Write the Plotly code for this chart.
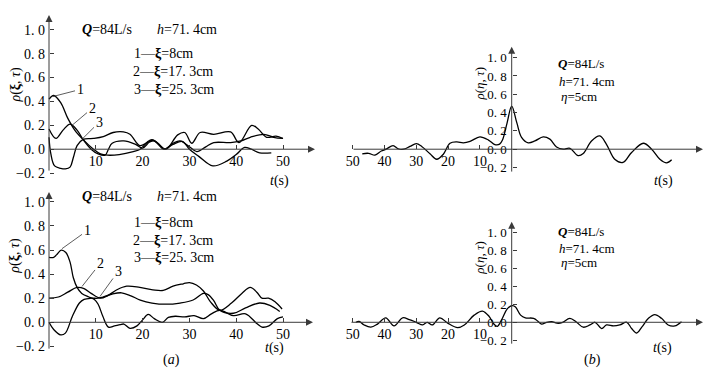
import plotly.graph_objects as go

W, H = 711, 377

# ---------------- data ----------------
# (a) upper panel: rho(xi, tau) vs t (s)
t_a1 = [0, 1, 2.5, 4, 5.5, 7.3, 9.5, 11, 12.5, 15, 18, 19.5, 21, 22, 23.3, 24.6, 26.5, 28.5, 30, 32, 35, 38, 40, 41.8, 43.2, 45, 47.5]
rho_a1 = [0.42, 0.45, 0.39, 0.26, 0.16, 0.08, 0.0, -0.04, -0.05, -0.045, -0.02, 0.0, 0.06, 0.08, 0.05, 0.0, 0.04, 0.065, 0.0, -0.06, -0.14, -0.1, -0.045, 0.015, 0.0, -0.03, -0.03]
t_a2 = [0, 1.5, 3, 4.5, 6, 7.3, 9, 10.5, 12, 12.7, 13.5, 16, 18.5, 20, 21.5, 22.5, 24.6, 26.5, 28, 30, 31.6, 33.5, 35.2, 38.8, 41, 43, 45.9, 48, 50]
rho_a2 = [0.17, 0.09, 0.16, 0.21, 0.16, 0.08, 0.0, -0.04, -0.05, 0.0, 0.05, 0.07, 0.04, 0.01, 0.06, 0.07, 0.0, 0.05, 0.07, 0.02, -0.02, 0.02, 0.055, 0.055, 0.07, 0.1, 0.125, 0.1, 0.09]
t_a3 = [0, 0.4, 1.2, 2.5, 3.5, 4.5, 5.2, 6, 7.3, 9.5, 11.6, 13.7, 15.9, 17.3, 19.4, 21, 22.2, 23.5, 25, 27.5, 29, 30.5, 32.3, 35.2, 38.8, 40.6, 43.3, 44.7, 46.5, 48.5, 50]
rho_a3 = [0.1, -0.04, -0.14, -0.16, -0.165, -0.15, -0.07, 0.03, 0.083, 0.09, 0.105, 0.14, 0.145, 0.125, 0.03, 0.055, 0.075, 0.04, 0.0, 0.12, 0.14, 0.05, 0.14, 0.125, 0.145, 0.055, 0.2, 0.17, 0.1, 0.11, 0.09]

# (a) lower panel
t_c1 = [0, 1, 1.6, 2.6, 3.6, 4.5, 5.2, 6, 7, 8.5, 9.7, 10.5, 11.5, 12.7, 14, 15.2, 16, 17.3, 18.8, 20, 21.2, 22.5, 24.2, 25.5, 27, 29, 31, 33, 34.7, 36.5, 39.4, 42, 44.4, 45.5, 47, 48.8, 50]
rho_c1 = [0.54, 0.54, 0.56, 0.6, 0.58, 0.5, 0.37, 0.29, 0.24, 0.21, 0.19, 0.15, 0.05, -0.04, -0.03, -0.02, -0.015, -0.05, -0.03, 0.02, 0.065, 0.03, 0.0, 0.04, 0.05, 0.045, 0.055, 0.03, 0.07, 0.1, 0.055, 0.07, -0.01, -0.04, -0.03, 0.03, 0.045]
t_c2 = [0, 2, 4, 6, 7.5, 9, 11, 12.5, 14.5, 16.6, 19.4, 22.2, 24.4, 26.5, 28.7, 30, 31.5, 33, 34.5, 36.5, 39, 41.2, 43, 44.4, 45.5, 46.9, 48.3, 49.8]
rho_c2 = [0.2, 0.21, 0.25, 0.29, 0.28, 0.24, 0.2, 0.22, 0.27, 0.3, 0.29, 0.27, 0.265, 0.3, 0.32, 0.33, 0.31, 0.26, 0.17, 0.1, 0.16, 0.24, 0.29, 0.25, 0.2, 0.2, 0.17, 0.11]
t_c3 = [0, 1, 2.5, 3.5, 5, 6.5, 7.5, 9, 10.5, 11.5, 13.5, 15.5, 17.5, 19.5, 22, 25, 28, 30.8, 33, 34, 35.2, 36.5, 39.4, 42, 45, 47.2, 49.3]
rho_c3 = [0.0, -0.06, -0.105, -0.09, 0.05, 0.16, 0.19, 0.2, 0.2, 0.21, 0.235, 0.245, 0.22, 0.185, 0.16, 0.15, 0.16, 0.185, 0.24, 0.23, 0.18, 0.1, 0.075, 0.12, 0.16, 0.14, 0.09]

# (b) upper panel: rho(eta, tau)
t_b = [-47, -45, -43, -41, -39.5, -37.3, -35.7, -34, -32, -30, -28.3, -25.7, -23.6, -21.5, -19.4, -17.3, -15.2, -13.1, -10, -7.3, -5.3, -3.8, -2.9, -1.5, 0,
       1.6, 3.1, 5.2, 7.3, 9.9, 12, 14.1, 16.2, 18.3, 20.9, 22.5, 25.1, 27.7, 29.8, 32.4, 35, 37.7, 41.4, 44, 46.6, 48.7, 50.3]
rho_b = [-0.05, -0.045, -0.065, -0.02, 0.0, 0.04, 0.005, 0.0, 0.03, 0.06, 0.03, -0.05, -0.11, -0.055, 0.065, 0.08, 0.07, 0.085, 0.135, 0.1, 0.05, 0.055, 0.1, 0.28, 0.47,
         0.29, 0.13, 0.07, 0.09, 0.134, 0.11, 0.025, 0.0, 0.01, -0.07, -0.047, 0.09, 0.145, 0.054, -0.11, -0.145, -0.036, 0.065, 0.0, -0.11, -0.15, -0.116]

# (b) lower panel
t_d = [-49, -48, -46.4, -44.3, -42.2, -39.6, -37, -34.3, -32.2, -30, -28, -26.6, -25, -22.6, -20.1, -17, -14.9, -11.8, -9.2, -7.2, -5.6, -4.5, -3, -1.4, 0.2,
       1.2, 2.8, 4.3, 6.9, 8.4, 9.4, 11, 12.6, 14.2, 15.8, 18.3, 20.4, 22.5, 24.6, 26.2, 28.3, 29.8, 32, 34, 36.2, 37.7, 39.3, 40.9, 43, 45, 47.1, 49.2, 51.3, 53.4]
rho_d = [0.0, 0.01, -0.03, -0.055, -0.02, 0.05, -0.04, 0.05, 0.03, 0.0, -0.03, 0.0, -0.03, 0.05, -0.01, -0.06, -0.03, 0.08, 0.125, 0.07, -0.02, -0.045, 0.04, 0.15, 0.185,
         0.17, 0.08, 0.05, 0.044, 0.007, -0.02, 0.0, 0.007, -0.01, -0.005, 0.044, 0.0, -0.055, -0.03, 0.0, -0.07, -0.03, -0.04, -0.03, 0.0, -0.07, -0.12, -0.055, 0.044, 0.085, 0.044, -0.03, -0.04, 0.007]

y_tick_vals = [-0.2, 0.0, 0.2, 0.4, 0.6, 0.8, 1.0]
y_tick_text = ["−0. 2", "0. 0", "0. 2", "0. 4", "0. 6", "0. 8", "1. 0"]
x_tick_vals_a = [10, 20, 30, 40, 50]
x_tick_text_a = ["10", "20", "30", "40", "50"]
x_tick_vals_b = [-50, -40, -30, -20, -10]
x_tick_text_b = ["50", "40", "30", "20", "10"]

# ---------------- layout helpers ----------------
def pxx(x):
    return x / W

def pyy(y):
    return 1 - y / H

SERIF = "Liberation Serif, DejaVu Serif, serif"
AX_COL = "#3a3a3a"

# panel geometry (pixels)
panels = {
    # name: (xaxis, yaxis, x0px, x1px, y_top_px, y_bot_px, origin_x_px, px_per_s, zero_y_px, px_per_rho)
    "a": ("x", "y", 40, 318, 12, 180, 49, 4.68, 150, 120),
    "c": ("x2", "y2", 40, 318, 188, 356, 49, 4.68, 324, 121),
    "b": ("x3", "y3", 345, 708, 42, 180, 511.7, 3.18, 150, 92),
    "d": ("x4", "y4", 345, 708, 218, 352, 511.7, 3.18, 324, 90),
}

fig = go.Figure()
line_style = dict(color="black", width=1.3, shape="spline", smoothing=1.0)

series = [
    ("a", t_a1, rho_a1), ("a", t_a2, rho_a2), ("a", t_a3, rho_a3),
    ("c", t_c1, rho_c1), ("c", t_c2, rho_c2), ("c", t_c3, rho_c3),
    ("b", t_b, rho_b), ("d", t_d, rho_d),
]
for p, xs, ys in series:
    xa, ya = panels[p][0], panels[p][1]
    fig.add_trace(go.Scatter(x=xs, y=ys, mode="lines", line=line_style,
                             xaxis=xa, yaxis=ya, hoverinfo="skip"))

layout = dict(width=W, height=H, margin=dict(l=0, r=0, t=0, b=0),
              paper_bgcolor="white", plot_bgcolor="white", showlegend=False)

annotations = []

def to_data(p, xpx, ypx):
    _, _, _, _, _, _, ox, sx, oy, sy = panels[p]
    return (xpx - ox) / sx, (oy - ypx) / sy

for p, (xa, ya, x0, x1, yt, yb, ox, sx, oy, sy) in panels.items():
    xr = [(x0 - ox) / sx, (x1 - ox) / sx]
    yr = [(oy - yb) / sy, (oy - yt) / sy]
    xkey = "xaxis" + xa[1:]
    ykey = "yaxis" + ya[1:]
    left = p in ("a", "c")
    layout[xkey] = dict(domain=[pxx(x0), pxx(x1)], range=xr, anchor="free", position=pyy(oy),
                        showline=False, showgrid=False, zeroline=False,
                        ticks="inside", ticklen=4, tickwidth=1, tickcolor=AX_COL,
                        tickvals=x_tick_vals_a if left else x_tick_vals_b,
                        ticktext=x_tick_text_a if left else x_tick_text_b,
                        ticklabelstandoff=2,
                        tickfont=dict(family=SERIF, size=14, color="black"))
    layout[ykey] = dict(domain=[pyy(yb), pyy(yt)], range=yr, anchor="free", position=pxx(ox),
                        showline=False, showgrid=False, zeroline=False,
                        ticks="inside", ticklen=4, tickwidth=1, tickcolor=AX_COL,
                        tickvals=y_tick_vals, ticktext=y_tick_text,
                        ticklabelstandoff=4 if left else 5,
                        tickfont=dict(family=SERIF, size=14 if left else 13, color="black"))

# axis lines with arrowheads: (panel, x-axis start px, x-axis end px, y-axis bottom px, y-axis top px)
axis_lines = [("a", 49, 315, 173, 15), ("c", 49, 313, 352, 193),
              ("b", 352, 703, 174, 47), ("d", 350, 703, 347, 223)]
for p, xs_px, xe_px, yb_px, yt_px in axis_lines:
    xa, ya = panels[p][0], panels[p][1]
    tx0, _ = to_data(p, xs_px, 0)
    tx1, _ = to_data(p, xe_px, 0)
    _, ry0 = to_data(p, 0, yb_px)
    _, ry1 = to_data(p, 0, yt_px)
    common = dict(xref=xa, yref=ya, axref=xa, ayref=ya, text="", showarrow=True,
                  arrowhead=2, arrowsize=1.4, arrowwidth=1, arrowcolor=AX_COL, standoff=0)
    annotations.append(dict(x=tx1, y=0, ax=tx0, ay=0, **common))
    annotations.append(dict(x=0, y=ry1, ax=0, ay=ry0, **common))

def txt(x, y, s, size=14, xanchor="left", angle=0):
    annotations.append(dict(x=pxx(x), y=pyy(y), xref="paper", yref="paper", text=s,
                            showarrow=False, xanchor=xanchor, yanchor="middle",
                            textangle=angle, font=dict(family=SERIF, size=size, color="black")))

# left panels text
for (qy, l1, l2, l3) in ((30, 54, 72, 90), (198, 224, 242, 259)):
    txt(80, qy, "<b><i>Q</i></b>=84L/s")
    txt(155, qy, "<i>h</i>=71. 4cm")
    txt(132, l1, "1—<b>ξ</b>=8cm")
    txt(131, l2, "2—<b>ξ</b>=17. 3cm")
    txt(132, l3, "3—<b>ξ</b>=25. 3cm")
# right panels text
for (qy, hy, ey) in ((64, 82, 97), (233, 250, 264)):
    txt(556, qy, "<b><i>Q</i></b>=84L/s", size=13)
    txt(557, hy, "<i>h</i>=71. 4cm", size=13)
    txt(559, ey, "<i>η</i>=5cm", size=13)

# axis titles
txt(16, 85, "<i>ρ</i>(<b>ξ</b>, <i>τ</i>)", size=14, xanchor="center", angle=-90)
txt(15, 257, "<i>ρ</i>(<b>ξ</b>, <i>τ</i>)", size=14, xanchor="center", angle=-90)
txt(480, 84, "<i>ρ</i>(<i>η</i>, <i>τ</i>)", size=13, xanchor="center", angle=-90)
txt(480, 259, "<i>ρ</i>(<i>η</i>, <i>τ</i>)", size=13, xanchor="center", angle=-90)
for (x, y) in ((279, 182), (274, 350), (663, 182), (662, 350)):
    txt(x, y, "<i>t</i>(s)", xanchor="center")
txt(171, 362, "(<i>a</i>)", xanchor="center")
txt(592, 362, "(<i>b</i>)", xanchor="center")

# curve number labels with leader lines: (panel, label, label px, label py, tip px, tip py)
leaders = [("a", "1", 80, 90, 53, 97), ("a", "2", 92, 109, 72, 126), ("a", "3", 99, 123, 82, 140),
           ("c", "1", 87, 232, 62, 250), ("c", "2", 100, 265, 82, 288), ("c", "3", 118, 273, 100, 298)]
for p, lab, lx, ly, tx, ty in leaders:
    xa, ya = panels[p][0], panels[p][1]
    ax_, ay_ = to_data(p, lx, ly)
    x_, y_ = to_data(p, tx, ty)
    annotations.append(dict(x=x_, y=y_, ax=ax_, ay=ay_, xref=xa, yref=ya, axref=xa, ayref=ya,
                            text=lab, showarrow=True, arrowhead=0, arrowwidth=0.8,
                            arrowcolor="#333", font=dict(family=SERIF, size=14, color="black")))

layout["annotations"] = annotations
fig.update_layout(**layout)
fig.write_html("out.html", config={"displayModeBar": False, "staticPlot": True},
               post_script="document.body.style.margin='0';document.body.style.padding='0';")
